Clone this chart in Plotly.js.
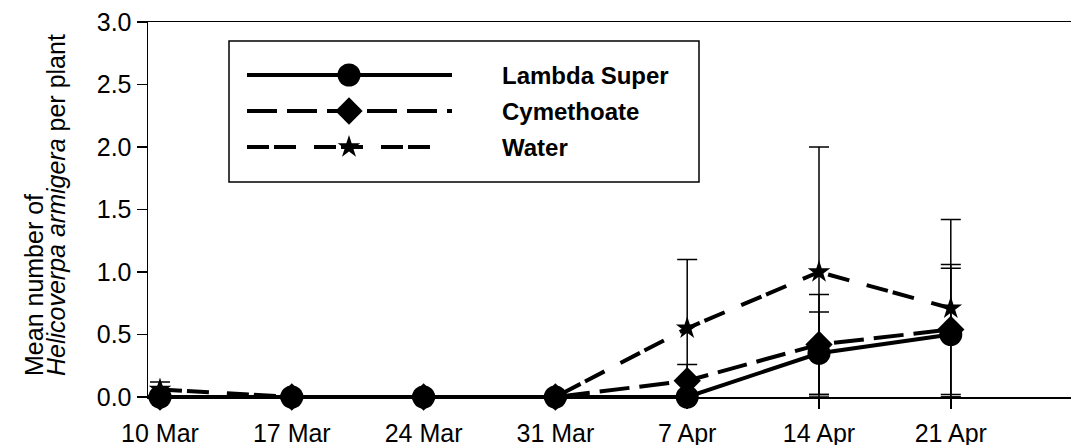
<!DOCTYPE html>
<html>
<head>
<meta charset="utf-8">
<script src="https://cdn.plot.ly/plotly-3.0.1.min.js"></script>
<style>html,body{margin:0;padding:0;background:#fff;}#chart{width:1071px;height:445px;}</style>
</head>
<body>
<div id="chart"></div>
<script>
// ---- data ----
const categories = ["10 Mar", "17 Mar", "24 Mar", "31 Mar", "7 Apr", "14 Apr", "21 Apr"];
const lambdaMean = [0, 0, 0, 0, 0, 0.35, 0.50];
const lambdaErr  = [0, 0, 0, 0, 0, 0.33, 0.53];
const cymMean    = [0, 0, 0, 0, 0.13, 0.42, 0.54];
const cymErr     = [0, 0, 0, 0, 0.13, 0.40, 0.52];
const waterMean  = [0.06, 0, 0, 0, 0.55, 1.00, 0.71];
const waterErr   = [0.06, 0, 0, 0, 0.55, 1.00, 0.71];
const seriesNames = ["Lambda Super", "Cymethoate", "Water"];
const yTickVals = [0, 0.5, 1.0, 1.5, 2.0, 2.5, 3.0];

// ---- layout geometry (pixels) ----
const W = 1071, H = 445;
const L = 148, R = 1071, T = 22, B = 397;
const PW = R - L, PH = B - T;
const px2x = p => (p - L) / PW;
const px2y = p => (B - p) / PH;
const FONT = "Liberation Sans, Arial, Helvetica, sans-serif";

const idx = categories.map((c, i) => i);

const DASH_CYM = "30px,10px";
const DASH_WAT = "22px,5px,22px,18px";

// lower bars are truncated at zero (axis)
function errOf(mean, err) {
  return {type: "data", symmetric: false, array: err,
          arrayminus: err.map((e, i) => Math.min(e, mean[i])),
          visible: true, color: "#000", thickness: 1.5, width: 10};
}

const traces = [
  {
    x: idx, y: waterMean, name: seriesNames[2], type: "scatter", mode: "lines+markers",
    line: {color: "#000", width: 4, dash: DASH_WAT},
    marker: {symbol: "star", size: 17, color: "#000"},
    error_y: errOf(waterMean, waterErr), showlegend: false, cliponaxis: false
  },
  {
    x: idx, y: cymMean, name: seriesNames[1], type: "scatter", mode: "lines+markers",
    line: {color: "#000", width: 4, dash: DASH_CYM},
    marker: {symbol: "diamond", size: 21, color: "#000"},
    error_y: errOf(cymMean, cymErr), showlegend: false, cliponaxis: false
  },
  {
    x: idx, y: lambdaMean, name: seriesNames[0], type: "scatter", mode: "lines+markers",
    line: {color: "#000", width: 4},
    marker: {symbol: "circle", size: 23, color: "#000"},
    error_y: errOf(lambdaMean, lambdaErr), showlegend: false, cliponaxis: false
  }
];

// ---- custom legend drawn on a pixel overlay axis ----
const legRows = [75, 111, 147];
const legLineX = [[247, 452], [247, 452], [247, 430]];
const legDash = ["solid", DASH_CYM, DASH_WAT];
const legSym = ["circle", "diamond", "star"];
const legSize = [23, 21, 17];
for (let i = 0; i < 3; i++) {
  traces.push({
    x: legLineX[i], y: [legRows[i], legRows[i]], xaxis: "x2", yaxis: "y2",
    type: "scatter", mode: "lines", line: {color: "#000", width: 4, dash: legDash[i]},
    showlegend: false, hoverinfo: "skip", cliponaxis: false
  });
  traces.push({
    x: [349], y: [legRows[i]], xaxis: "x2", yaxis: "y2",
    type: "scatter", mode: "markers", marker: {symbol: legSym[i], size: legSize[i], color: "#000"},
    showlegend: false, hoverinfo: "skip", cliponaxis: false
  });
}

const annotations = seriesNames.map((n, i) => ({
  text: "<b>" + n + "</b>", xref: "x2", yref: "y2", x: 500, y: legRows[i],
  xanchor: "left", yanchor: "middle", showarrow: false,
  font: {family: FONT, size: 24, color: "#000"}
}));
annotations.push({
  text: "Mean number of", xref: "paper", yref: "paper",
  x: px2x(34), y: px2y(378), xanchor: "center", yanchor: "bottom",
  textangle: -90, showarrow: false, font: {family: FONT, size: 25, color: "#000"}
});
annotations.push({
  text: "<i>Helicoverpa armigera</i> per plant", xref: "paper", yref: "paper",
  x: px2x(56), y: px2y(378), xanchor: "center", yanchor: "bottom",
  textangle: -90, showarrow: false, font: {family: FONT, size: 25, color: "#000"}
});

const layout = {
  width: W, height: H,
  margin: {l: L, r: W - R, t: T, b: H - B, pad: 0},
  paper_bgcolor: "#fff", plot_bgcolor: "#fff",
  showlegend: false,
  font: {family: FONT, size: 25, color: "#000"},
  xaxis: {
    range: [-0.091, 6.912], tickmode: "array", tickvals: idx, ticktext: categories,
    showgrid: false, zeroline: false, showline: true, linecolor: "#000", linewidth: 1.5,
    mirror: true, ticks: "outside", ticklen: 10, tickwidth: 1.5, tickcolor: "#000",
    ticklabelstandoff: 3, tickfont: {family: FONT, size: 25, color: "#000"}
  },
  yaxis: {
    range: [0, 3], tickmode: "array", tickvals: yTickVals, tickformat: ".1f",
    showgrid: false, zeroline: false, showline: true, linecolor: "#000", linewidth: 1.5,
    ticks: "outside", ticklen: 10, tickwidth: 1.5, tickcolor: "#000",
    tickfont: {family: FONT, size: 25, color: "#000"}
  },
  xaxis2: {overlaying: "x", anchor: "y2", range: [L, R], visible: false, fixedrange: true},
  yaxis2: {overlaying: "y", anchor: "x2", range: [B, T], visible: false, fixedrange: true},
  shapes: [{
    type: "rect", xref: "x2", yref: "y2", x0: 229, x1: 699, y0: 41, y1: 182,
    line: {color: "#000", width: 1.5}, fillcolor: "rgba(0,0,0,0)", layer: "below"
  }],
  annotations: annotations
};

Plotly.newPlot("chart", traces, layout, {staticPlot: true, displayModeBar: false});
</script>
</body>
</html>
